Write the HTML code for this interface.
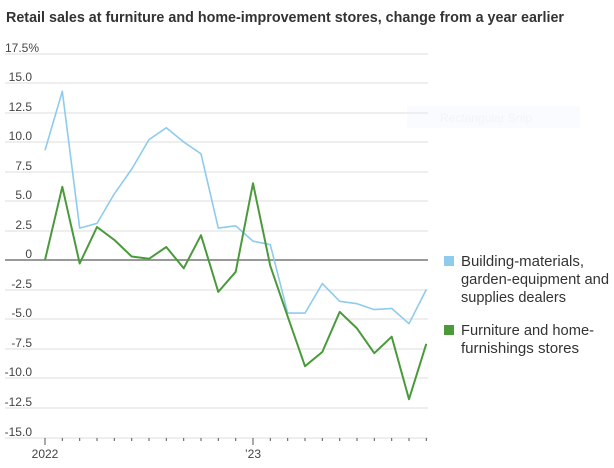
<!DOCTYPE html>
<html><head><meta charset="utf-8"><style>
html,body{margin:0;padding:0;background:#fff;}
svg{display:block;font-family:"Liberation Sans",sans-serif;}
</style></head><body>
<svg width="614" height="468" viewBox="0 0 614 468" xmlns="http://www.w3.org/2000/svg">
<text x="6" y="22" font-size="15" font-weight="bold" fill="#333" textLength="558" lengthAdjust="spacingAndGlyphs">Retail sales at furniture and home-improvement stores, change from a year earlier</text>
<rect x="407" y="106" width="173" height="22" fill="#f9fbfe"/>
<text x="440" y="122" font-size="12" fill="#f1f4f9">Rectangular Snip</text>
<g stroke="#eeeeee" stroke-width="2">
<line x1="5" x2="428" y1="54" y2="54"/>
<line x1="5" x2="428" y1="83" y2="83"/>
<line x1="5" x2="428" y1="113" y2="113"/>
<line x1="5" x2="428" y1="142" y2="142"/>
<line x1="5" x2="428" y1="172" y2="172"/>
<line x1="5" x2="428" y1="201" y2="201"/>
<line x1="5" x2="428" y1="231" y2="231"/>
<line x1="5" x2="428" y1="290" y2="290"/>
<line x1="5" x2="428" y1="319" y2="319"/>
<line x1="5" x2="428" y1="349" y2="349"/>
<line x1="5" x2="428" y1="378" y2="378"/>
<line x1="5" x2="428" y1="408" y2="408"/>
<line x1="5" x2="428" y1="438" y2="438"/>
</g>
<line x1="5" x2="428" y1="260" y2="260" stroke="#999" stroke-width="2"/>
<g font-size="12" fill="#444" text-anchor="end">
<text x="39" y="52">17.5%</text>
<text x="32" y="81">15.0</text>
<text x="32" y="111">12.5</text>
<text x="32" y="140">10.0</text>
<text x="32" y="170">7.5</text>
<text x="32" y="199">5.0</text>
<text x="32" y="229">2.5</text>
<text x="32" y="258">0</text>
<text x="32" y="288">-2.5</text>
<text x="32" y="317">-5.0</text>
<text x="32" y="347">-7.5</text>
<text x="32" y="376">-10.0</text>
<text x="32" y="406">-12.5</text>
<text x="32" y="436">-15.0</text>
</g>
<g stroke="#555" stroke-width="1">
<line x1="45" x2="45" y1="438" y2="445"/>
<line x1="62.3" x2="62.3" y1="438" y2="441"/>
<line x1="79.7" x2="79.7" y1="438" y2="441"/>
<line x1="97" x2="97" y1="438" y2="441"/>
<line x1="114.3" x2="114.3" y1="438" y2="441"/>
<line x1="131.7" x2="131.7" y1="438" y2="441"/>
<line x1="149" x2="149" y1="438" y2="441"/>
<line x1="166.3" x2="166.3" y1="438" y2="441"/>
<line x1="183.7" x2="183.7" y1="438" y2="441"/>
<line x1="201" x2="201" y1="438" y2="441"/>
<line x1="218.3" x2="218.3" y1="438" y2="441"/>
<line x1="235.7" x2="235.7" y1="438" y2="441"/>
<line x1="253" x2="253" y1="438" y2="445"/>
<line x1="270.3" x2="270.3" y1="438" y2="441"/>
<line x1="287.7" x2="287.7" y1="438" y2="441"/>
<line x1="305" x2="305" y1="438" y2="441"/>
<line x1="322.3" x2="322.3" y1="438" y2="441"/>
<line x1="339.7" x2="339.7" y1="438" y2="441"/>
<line x1="357" x2="357" y1="438" y2="441"/>
<line x1="374.3" x2="374.3" y1="438" y2="441"/>
<line x1="391.7" x2="391.7" y1="438" y2="441"/>
<line x1="409" x2="409" y1="438" y2="441"/>
<line x1="426.3" x2="426.3" y1="438" y2="441"/>
</g>
<g font-size="12" fill="#444" text-anchor="middle">
<text x="45" y="458">2022</text>
<text x="253" y="458">’23</text>
</g>
<polyline fill="none" stroke="#8ecbec" stroke-width="1.6" stroke-linejoin="round" points="45,150.3 62.3,91.3 79.7,228.1 97,223.4 114.3,193.9 131.7,169.1 149,139.6 166.3,127.8 183.7,142 201,153.8 218.3,228.1 235.7,225.8 253,241.1 270.3,244.7 287.7,313.1 305,313.1 322.3,283.6 339.7,301.3 357,303.7 374.3,309.6 391.7,308.4 409,323.7 426.3,289.5"/>
<polyline fill="none" stroke="#4a9a3c" stroke-width="2" stroke-linejoin="round" points="45,260 62.3,186.8 79.7,263.5 97,227 114.3,239.9 131.7,256.5 149,258.8 166.3,247 183.7,268.3 201,235.2 218.3,291.9 235.7,271.8 253,183.3 270.3,265.9 287.7,316.6 305,366.2 322.3,352 339.7,311.9 357,328.4 374.3,353.2 391.7,336.7 409,399.2 426.3,343.8"/>
<rect x="444" y="256" width="10" height="10" fill="#8ecbec"/>
<rect x="444" y="325" width="10" height="10" fill="#4a9a3c"/>
<g font-size="15" fill="#333">
<text x="461" y="266" textLength="123" lengthAdjust="spacingAndGlyphs">Building-materials,</text>
<text x="461" y="284" textLength="148" lengthAdjust="spacingAndGlyphs">garden-equipment and</text>
<text x="461" y="302" textLength="105" lengthAdjust="spacingAndGlyphs">supplies dealers</text>
<text x="461" y="335" textLength="133" lengthAdjust="spacingAndGlyphs">Furniture and home-</text>
<text x="461" y="353" textLength="118" lengthAdjust="spacingAndGlyphs">furnishings stores</text>
</g>
</svg>
</body></html>
